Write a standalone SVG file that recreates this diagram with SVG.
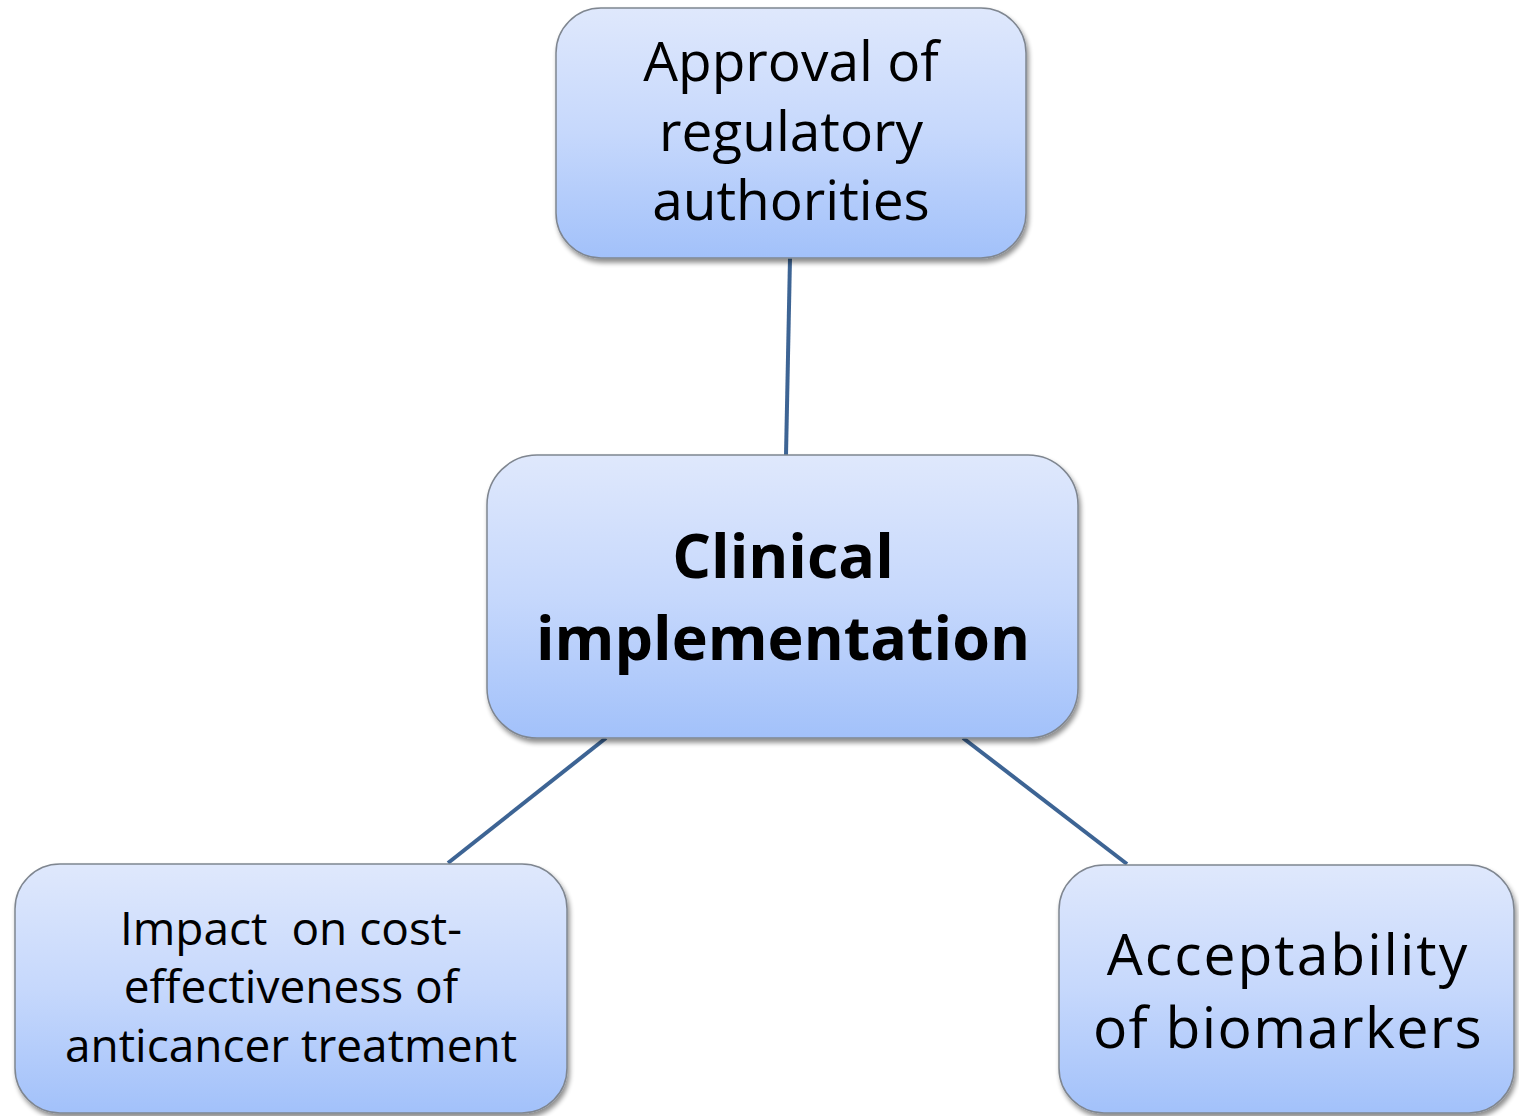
<svg xmlns="http://www.w3.org/2000/svg" width="1519" height="1116" viewBox="0 0 1519 1116">
  <defs>
    <linearGradient id="boxFill" x1="0" y1="0" x2="0" y2="1">
      <stop offset="0" stop-color="#dfe8fc"/>
      <stop offset="0.5" stop-color="#c6d8fc"/>
      <stop offset="1" stop-color="#a2c1fa"/>
    </linearGradient>
    <filter id="shadow" x="-5%" y="-5%" width="115%" height="120%">
      <feGaussianBlur in="SourceAlpha" stdDeviation="2.5"/>
      <feOffset dx="2" dy="4" result="off"/>
      <feComponentTransfer><feFuncA type="linear" slope="0.45"/></feComponentTransfer>
      <feMerge><feMergeNode/><feMergeNode in="SourceGraphic"/></feMerge>
    </filter>
  </defs>
  <style>
    .box { fill: url(#boxFill); stroke: #7f8690; stroke-width: 1.5; filter: url(#shadow); }
    .link { stroke: #3d6494; stroke-width: 4; fill: none; }
    text { font-family: "Open Sans", "Noto Sans", sans-serif; fill: #000; text-anchor: middle; }
    .bold { font-weight: bold; }
  </style>
  <rect width="1519" height="1116" fill="#ffffff"/>

  <g id="connectors">
    <line class="link" x1="790" y1="258" x2="786" y2="455"/>
    <line class="link" x1="606" y1="738" x2="448" y2="863"/>
    <line class="link" x1="963" y1="738" x2="1127" y2="864"/>
  </g>

  <g id="node-approval">
    <rect class="box" x="556" y="8" width="470" height="250" rx="45"/>
    <text font-size="55" x="791"><tspan x="791" y="81">Approval of</tspan><tspan x="791" y="151">regulatory</tspan><tspan x="791" y="220">authorities</tspan></text>
  </g>

  <g id="node-clinical">
    <rect class="box" x="487" y="455" width="591" height="283" rx="50"/>
    <text class="bold" font-size="61" x="783"><tspan x="783" y="578">Clinical</tspan><tspan x="783" y="660">implementation</tspan></text>
  </g>

  <g id="node-impact">
    <rect class="box" x="15" y="864" width="552" height="249" rx="45"/>
    <text font-size="46" x="291" xml:space="preserve"><tspan x="291" y="945">Impact  on cost-</tspan><tspan x="291" y="1003">effectiveness of</tspan><tspan x="291" y="1062">anticancer treatment</tspan></text>
  </g>

  <g id="node-acceptability">
    <rect class="box" x="1059" y="865" width="455" height="248" rx="45"/>
    <text font-size="57" x="1288"><tspan x="1288" y="975" letter-spacing="2">Acceptability</tspan><tspan x="1288" y="1048" letter-spacing="1.4">of biomarkers</tspan></text>
  </g>
</svg>
